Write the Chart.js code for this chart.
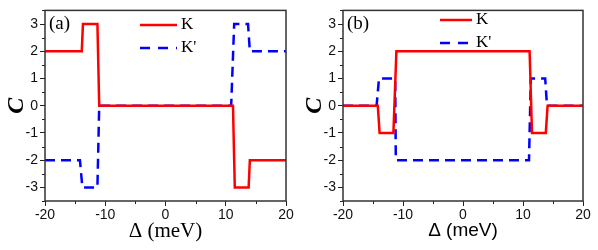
<!DOCTYPE html>
<html>
<head>
<meta charset="utf-8">
<script src="https://cdn.jsdelivr.net/npm/chart.js@4"></script>
<style>
  body { margin: 0; background: #fff; }
  #wrap { position: relative; width: 598px; height: 250px; }
  #wrap div { position: absolute; top: 0; height: 250px; }
</style>
</head>
<body>
<div id="wrap">
  <div style="left:0;width:300px"><canvas id="panelA" width="300" height="250"></canvas></div>
  <div style="left:300px;width:298px"><canvas id="panelB" width="298" height="250"></canvas></div>
</div>
<script>
// panel (a)
var aKx = [-20, -13.9, -13.7, -11.3, -11.0, 11.2, 11.5, 13.8, 14.0, 20];
var aKy = [2, 2, 3, 3, 0, 0, -3, -3, -2, -2];
var aKpx = [-20, -14.2, -13.8, -11.3, -11.0, 10.9, 11.4, 13.7, 14.0, 20];
var aKpy = [-2, -2, -3, -3, 0, 0, 3, 3, 2, 2];

// panel (b)
var bKx = [-20, -14.2, -13.9, -11.6, -11.1, 11.1, 11.5, 13.8, 14.1, 20];
var bKy = [0, 0, -1, -1, 2, 2, -1, -1, 0, 0];
var bKpx = [-20, -14.4, -14.0, -11.3, -11.2, 11.0, 11.3, 13.7, 14.0, 20];
var bKpy = [0, 0, 1, 1, -2, -2, 1, 1, 0, 0];

var xTicks = [-20, -10, 0, 10, 20];
var xMinor = [-15, -5, 5, 15];
var yTicks = [-3, -2, -1, 0, 1, 2, 3];
var yMinor = [-3.5, -2.5, -1.5, -0.5, 0.5, 1.5, 2.5, 3.5];
var seriesNames = ["K", "K'"];

function pts(xs, ys) {
  var out = [];
  for (var i = 0; i < xs.length; i++) out.push({ x: xs[i], y: ys[i] });
  return out;
}

var serif = "'Liberation Serif', 'Times New Roman', serif";
var sans = "'Liberation Sans', Arial, sans-serif";

function extras(opt) {
  return {
    id: "extras",
    afterDraw: function (chart) {
      var ctx = chart.ctx;
      var a = chart.chartArea;
      var xs = chart.scales.x, ys = chart.scales.y;
      ctx.save();
      // minor ticks
      ctx.strokeStyle = "#222";
      ctx.lineWidth = 1;
      ctx.beginPath();
      xMinor.forEach(function (v) {
        var px = Math.round(xs.getPixelForValue(v)) + 0.5;
        ctx.moveTo(px, a.bottom); ctx.lineTo(px, a.bottom + 3);
      });
      yMinor.forEach(function (v) {
        var py = Math.round(ys.getPixelForValue(v)) + 0.5;
        ctx.moveTo(a.left, py); ctx.lineTo(a.left - 3, py);
      });
      ctx.stroke();
      // frame
      ctx.strokeStyle = "#333";
      ctx.lineWidth = 1.5;
      ctx.strokeRect(a.left, a.top, a.right - a.left, a.bottom - a.top);

      // panel letter
      ctx.fillStyle = "#000";
      ctx.font = "19px " + serif;
      ctx.textAlign = "left";
      ctx.textBaseline = "middle";
      ctx.fillText(opt.letter, a.left + 4, 24);

      // legend
      var lx = opt.legX, ly = opt.legY;
      ctx.lineWidth = 2.5;
      ctx.strokeStyle = "#ff0000";
      ctx.setLineDash([]);
      ctx.beginPath(); ctx.moveTo(lx, ly); ctx.lineTo(lx + opt.legLen, ly); ctx.stroke();
      ctx.strokeStyle = "#0000ff";
      ctx.setLineDash([10, 8]);
      ctx.beginPath(); ctx.moveTo(lx, ly + 23); ctx.lineTo(lx + opt.legLen, ly + 23); ctx.stroke();
      ctx.setLineDash([]);
      ctx.font = "17px " + serif;
      ctx.fillText(seriesNames[0], lx + opt.legLen + 4, ly);
      ctx.fillText(seriesNames[1], lx + opt.legLen + 4, ly + 23);

      // y title
      ctx.save();
      ctx.translate(opt.cX, (a.top + a.bottom) / 2);
      ctx.rotate(-Math.PI / 2);
      ctx.font = "italic bold 24px " + serif;
      ctx.textAlign = "center";
      ctx.fillText("C", 0, 0);
      ctx.restore();

      // x title
      ctx.font = opt.xFont;
      ctx.textAlign = "center";
      ctx.fillText("\u0394 (meV)", (a.left + a.right) / 2, 231);
      ctx.restore();
    }
  };
}

function makeChart(id, kx, ky, kpx, kpy, opt) {
  return new Chart(document.getElementById(id), {
    type: "line",
    data: {
      datasets: [
        {
          label: seriesNames[0],
          data: pts(kx, ky),
          borderColor: "#ff0000",
          borderWidth: 2.5,
          pointRadius: 0,
          tension: 0
        },
        {
          label: seriesNames[1],
          data: pts(kpx, kpy),
          borderColor: "#0000ff",
          borderWidth: 2.5,
          borderDash: [10, 6],
          pointRadius: 0,
          tension: 0
        }
      ]
    },
    options: {
      responsive: false,
      animation: false,
      events: [],
      layout: { padding: { left: 0, right: opt.padR, top: 5, bottom: 0 } },
      plugins: { legend: { display: false }, tooltip: { enabled: false } },
      scales: {
        x: {
          type: "linear",
          min: -20, max: 20,
          afterBuildTicks: function (s) { s.ticks = xTicks.map(function (v) { return { value: v }; }); },
          afterFit: function (s) { s.height = 49; },
          border: { display: false },
          grid: { drawOnChartArea: false, tickLength: 5, color: "#222", tickWidth: 1 },
          ticks: { color: "#111", font: { family: sans, size: 14 }, padding: 1, maxRotation: 0 }
        },
        y: {
          min: -3.5, max: 3.5,
          afterBuildTicks: function (s) { s.ticks = yTicks.map(function (v) { return { value: v }; }); },
          afterFit: function (s) { s.width = opt.yW; },
          border: { display: false },
          grid: { drawOnChartArea: false, tickLength: 5, color: "#222", tickWidth: 1 },
          ticks: { color: "#111", font: { family: sans, size: 14 }, padding: 2 }
        }
      }
    },
    plugins: [extras(opt)]
  });
}

makeChart("panelA", aKx, aKy, aKpx, aKpy, {
  padR: 14, yW: 45, letter: "(a)", legX: 140, legY: 25, legLen: 37, cX: 17,
  xFont: "21px " + serif
});
makeChart("panelB", bKx, bKy, bKpx, bKpy, {
  padR: 15, yW: 43, letter: "(b)", legX: 140, legY: 20, legLen: 32, cX: 15,
  xFont: "19px " + sans
});
</script>
</body>
</html>
